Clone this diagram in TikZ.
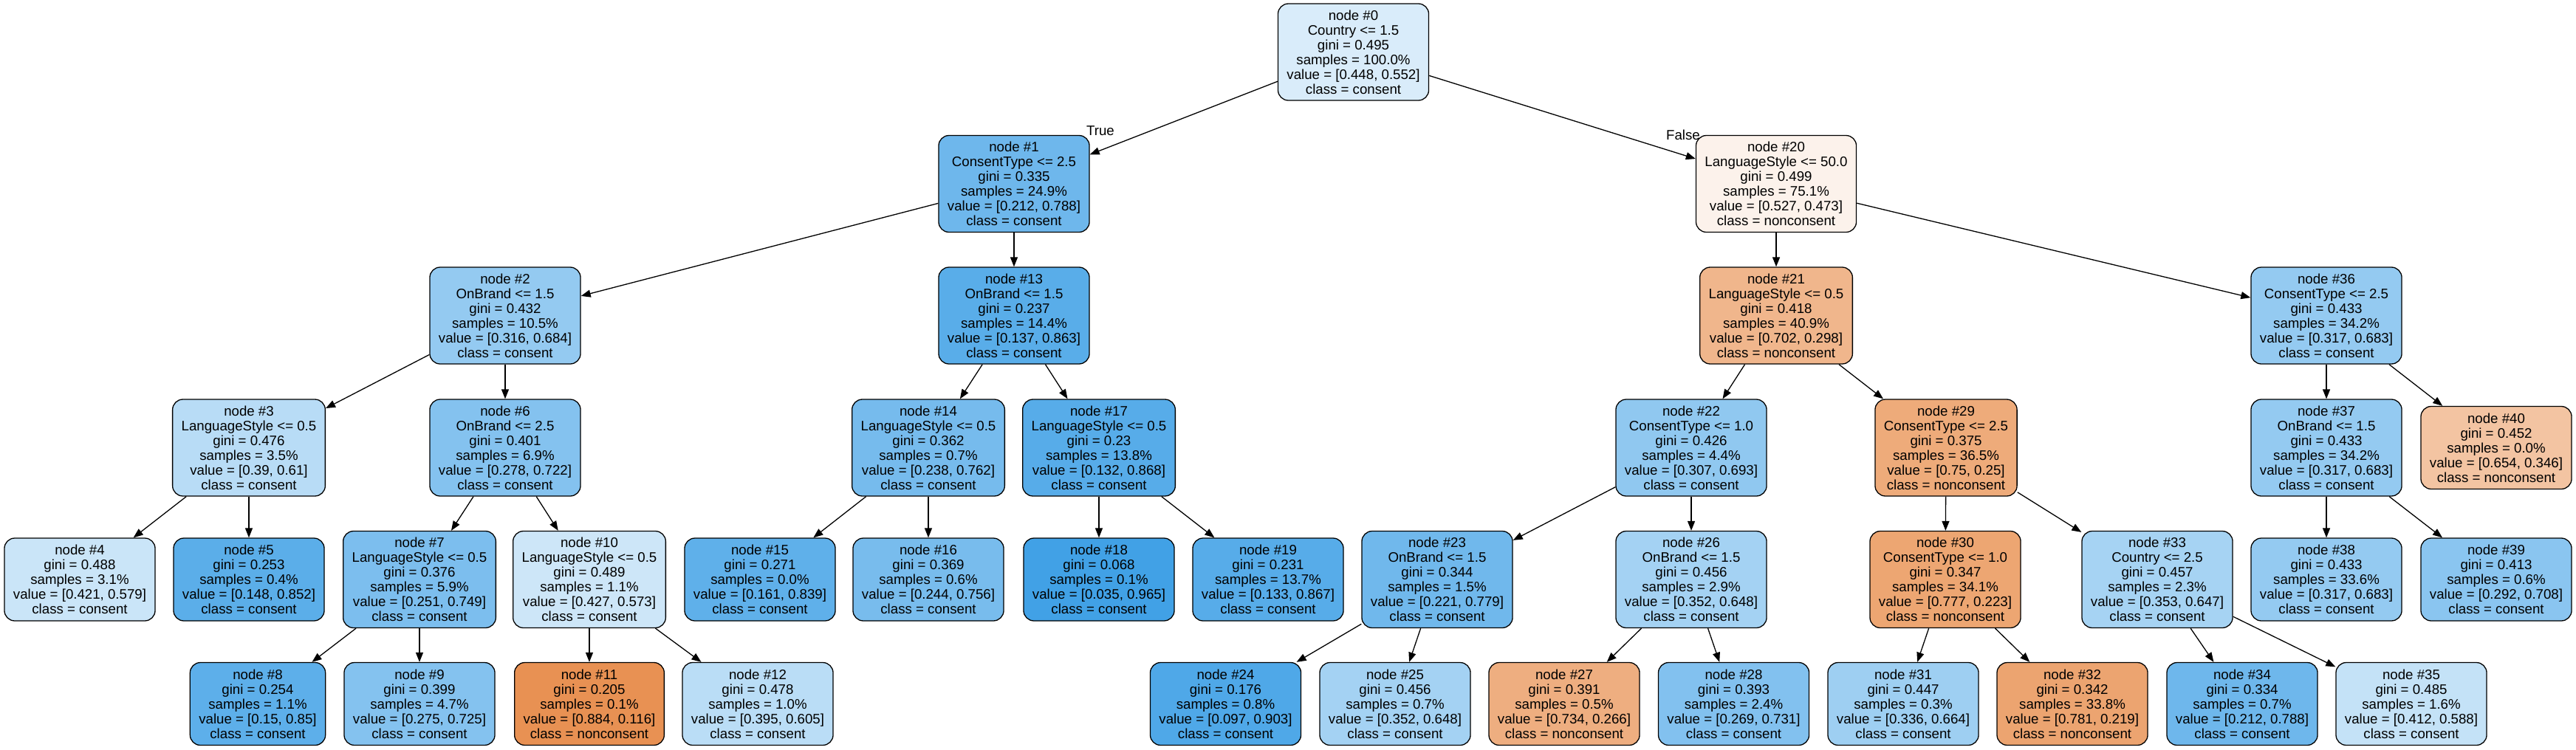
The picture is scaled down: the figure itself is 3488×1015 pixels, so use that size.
\documentclass[tikz,border=0pt]{standalone}
\usepackage{fontspec}
\setmainfont{Liberation Sans}
\usetikzlibrary{arrows.meta}
\definecolor{cblue}{RGB}{57,157,229}
\definecolor{corange}{RGB}{229,129,57}
\begin{document}
\begin{tikzpicture}[x=1pt, y=-1pt, line width=1.3pt, >={Triangle[length=13pt,width=10pt]},
  main/.style = {draw, rounded corners=14pt, align=center, inner xsep=12pt, inner ysep=0pt, minimum height=131pt, font=\fontsize{18.67}{20}\selectfont},
  leaf/.style = {main, minimum height=112pt},
  tag/.style = {inner sep=0pt, font=\fontsize{18.67}{20}\selectfont}]
\useasboundingbox (0,0) rectangle (3488,1015);
% left half
\node[main, fill=cblue!19] (0) at (1832.5,70.5) {node \#0\\Country <= 1.5\\gini = 0.495\\samples = 100.0\%\\value = [0.448, 0.552]\\class = consent};
\node[main, fill=cblue!73] (1) at (1373,249) {node \#1\\ConsentType <= 2.5\\gini = 0.335\\samples = 24.9\%\\value = [0.212, 0.788]\\class = consent};
\node[main, fill=cblue!54] (2) at (684,427.5) {node \#2\\OnBrand <= 1.5\\gini = 0.432\\samples = 10.5\%\\value = [0.316, 0.684]\\class = consent};
\node[main, fill=cblue!36] (3) at (337,606.5) {node \#3\\LanguageStyle <= 0.5\\gini = 0.476\\samples = 3.5\%\\value = [0.39, 0.61]\\class = consent};
\node[leaf, fill=cblue!27] (4) at (108,785) {node \#4\\gini = 0.488\\samples = 3.1\%\\value = [0.421, 0.579]\\class = consent};
\node[leaf, fill=cblue!83] (5) at (337,785) {node \#5\\gini = 0.253\\samples = 0.4\%\\value = [0.148, 0.852]\\class = consent};
\node[main, fill=cblue!62] (6) at (684,606.5) {node \#6\\OnBrand <= 2.5\\gini = 0.401\\samples = 6.9\%\\value = [0.278, 0.722]\\class = consent};
\node[main, fill=cblue!66] (7) at (568,785) {node \#7\\LanguageStyle <= 0.5\\gini = 0.376\\samples = 5.9\%\\value = [0.251, 0.749]\\class = consent};
\node[leaf, fill=cblue!82] (8) at (349,953.5) {node \#8\\gini = 0.254\\samples = 1.1\%\\value = [0.15, 0.85]\\class = consent};
\node[leaf, fill=cblue!62] (9) at (568,953.5) {node \#9\\gini = 0.399\\samples = 4.7\%\\value = [0.275, 0.725]\\class = consent};
\node[main, fill=cblue!25] (10) at (798,785) {node \#10\\LanguageStyle <= 0.5\\gini = 0.489\\samples = 1.1\%\\value = [0.427, 0.573]\\class = consent};
\node[leaf, fill=corange!87] (11) at (798,953.5) {node \#11\\gini = 0.205\\samples = 0.1\%\\value = [0.884, 0.116]\\class = nonconsent};
\node[leaf, fill=cblue!35] (12) at (1026,953.5) {node \#12\\gini = 0.478\\samples = 1.0\%\\value = [0.395, 0.605]\\class = consent};
\node[main, fill=cblue!84] (13) at (1373,427.5) {node \#13\\OnBrand <= 1.5\\gini = 0.237\\samples = 14.4\%\\value = [0.137, 0.863]\\class = consent};
\node[main, fill=cblue!69] (14) at (1257,606.5) {node \#14\\LanguageStyle <= 0.5\\gini = 0.362\\samples = 0.7\%\\value = [0.238, 0.762]\\class = consent};
\node[leaf, fill=cblue!81] (15) at (1029,785) {node \#15\\gini = 0.271\\samples = 0.0\%\\value = [0.161, 0.839]\\class = consent};
\node[leaf, fill=cblue!68] (16) at (1257,785) {node \#16\\gini = 0.369\\samples = 0.6\%\\value = [0.244, 0.756]\\class = consent};
\node[main, fill=cblue!85] (17) at (1488,606.5) {node \#17\\LanguageStyle <= 0.5\\gini = 0.23\\samples = 13.8\%\\value = [0.132, 0.868]\\class = consent};
\node[leaf, fill=cblue!96] (18) at (1488,785) {node \#18\\gini = 0.068\\samples = 0.1\%\\value = [0.035, 0.965]\\class = consent};
\node[leaf, fill=cblue!85] (19) at (1717,785) {node \#19\\gini = 0.231\\samples = 13.7\%\\value = [0.133, 0.867]\\class = consent};
% right half
\node[main, fill=corange!10] (20) at (2405,249) {node \#20\\LanguageStyle <= 50.0\\gini = 0.499\\samples = 75.1\%\\value = [0.527, 0.473]\\class = nonconsent};
\node[main, fill=corange!58] (21) at (2405,427.5) {node \#21\\LanguageStyle <= 0.5\\gini = 0.418\\samples = 40.9\%\\value = [0.702, 0.298]\\class = nonconsent};
\node[main, fill=cblue!56] (22) at (2290,606.5) {node \#22\\ConsentType <= 1.0\\gini = 0.426\\samples = 4.4\%\\value = [0.307, 0.693]\\class = consent};
\node[main, fill=cblue!72] (23) at (1946,785) {node \#23\\OnBrand <= 1.5\\gini = 0.344\\samples = 1.5\%\\value = [0.221, 0.779]\\class = consent};
\node[leaf, fill=cblue!89] (24) at (1659.5,953.5) {node \#24\\gini = 0.176\\samples = 0.8\%\\value = [0.097, 0.903]\\class = consent};
\node[leaf, fill=cblue!46] (25) at (1889,953.5) {node \#25\\gini = 0.456\\samples = 0.7\%\\value = [0.352, 0.648]\\class = consent};
\node[main, fill=cblue!46] (26) at (2290,785) {node \#26\\OnBrand <= 1.5\\gini = 0.456\\samples = 2.9\%\\value = [0.352, 0.648]\\class = consent};
\node[leaf, fill=corange!64] (27) at (2118,953.5) {node \#27\\gini = 0.391\\samples = 0.5\%\\value = [0.734, 0.266]\\class = nonconsent};
\node[leaf, fill=cblue!63] (28) at (2347.5,953.5) {node \#28\\gini = 0.393\\samples = 2.4\%\\value = [0.269, 0.731]\\class = consent};
\node[main, fill=corange!67] (29) at (2635,606.5) {node \#29\\ConsentType <= 2.5\\gini = 0.375\\samples = 36.5\%\\value = [0.75, 0.25]\\class = nonconsent};
\node[main, fill=corange!71] (30) at (2634,785) {node \#30\\ConsentType <= 1.0\\gini = 0.347\\samples = 34.1\%\\value = [0.777, 0.223]\\class = nonconsent};
\node[leaf, fill=cblue!49] (31) at (2577,953.5) {node \#31\\gini = 0.447\\samples = 0.3\%\\value = [0.336, 0.664]\\class = consent};
\node[leaf, fill=corange!72] (32) at (2806,953.5) {node \#32\\gini = 0.342\\samples = 33.8\%\\value = [0.781, 0.219]\\class = nonconsent};
\node[main, fill=cblue!45] (33) at (2921,785) {node \#33\\Country <= 2.5\\gini = 0.457\\samples = 2.3\%\\value = [0.353, 0.647]\\class = consent};
\node[leaf, fill=cblue!73] (34) at (3036,953.5) {node \#34\\gini = 0.334\\samples = 0.7\%\\value = [0.212, 0.788]\\class = consent};
\node[leaf, fill=cblue!30] (35) at (3265,953.5) {node \#35\\gini = 0.485\\samples = 1.6\%\\value = [0.412, 0.588]\\class = consent};
\node[main, fill=cblue!54] (36) at (3150,427.5) {node \#36\\ConsentType <= 2.5\\gini = 0.433\\samples = 34.2\%\\value = [0.317, 0.683]\\class = consent};
\node[main, fill=cblue!54] (37) at (3150,606.5) {node \#37\\OnBrand <= 1.5\\gini = 0.433\\samples = 34.2\%\\value = [0.317, 0.683]\\class = consent};
\node[leaf, fill=cblue!54] (38) at (3150,785) {node \#38\\gini = 0.433\\samples = 33.6\%\\value = [0.317, 0.683]\\class = consent};
\node[leaf, fill=cblue!59] (39) at (3380,785) {node \#39\\gini = 0.413\\samples = 0.6\%\\value = [0.292, 0.708]\\class = consent};
\node[leaf, fill=corange!47] (40) at (3380,606.5) {node \#40\\gini = 0.452\\samples = 0.0\%\\value = [0.654, 0.346]\\class = nonconsent};
\node[tag] (true) at (1490,177) {True};
\node[tag] (false) at (2279,183) {False};
% edges
\draw[->] (0) -- (1);
\draw[->] (0) -- (20);
\draw[->] (1) -- (2);
\draw[->] (1) -- (13);
\draw[->] (2) -- (3);
\draw[->] (2) -- (6);
\draw[->] (3) -- (4);
\draw[->] (3) -- (5);
\draw[->] (6) -- (7);
\draw[->] (6) -- (10);
\draw[->] (7) -- (8);
\draw[->] (7) -- (9);
\draw[->] (10) -- (11);
\draw[->] (10) -- (12);
\draw[->] (13) -- (14);
\draw[->] (13) -- (17);
\draw[->] (14) -- (15);
\draw[->] (14) -- (16);
\draw[->] (17) -- (18);
\draw[->] (17) -- (19);
\draw[->] (20) -- (21);
\draw[->] (20) -- (36);
\draw[->] (21) -- (22);
\draw[->] (21) -- (29);
\draw[->] (22) -- (23);
\draw[->] (22) -- (26);
\draw[->] (23) -- (24);
\draw[->] (23) -- (25);
\draw[->] (26) -- (27);
\draw[->] (26) -- (28);
\draw[->] (29) -- (30);
\draw[->] (29) -- (33);
\draw[->] (30) -- (31);
\draw[->] (30) -- (32);
\draw[->] (33) -- (34);
\draw[->] (33) -- (35);
\draw[->] (36) -- (37);
\draw[->] (36) -- (40);
\draw[->] (37) -- (38);
\draw[->] (37) -- (39);
\end{tikzpicture}
\end{document}
